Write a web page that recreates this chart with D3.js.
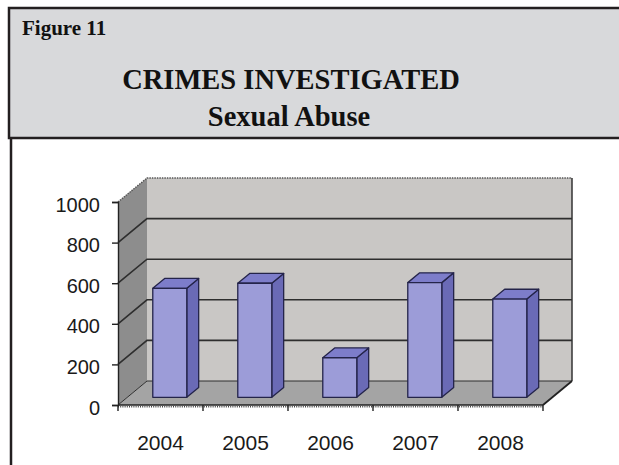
<!DOCTYPE html>
<html>
<head>
<meta charset="utf-8">
<script src="https://cdn.jsdelivr.net/npm/d3@7"></script>
<style>
  html, body { margin: 0; padding: 0; background: #ffffff; }
  svg { display: block; }
</style>
</head>
<body>
<svg id="chart" width="619" height="465"></svg>
<script>
// ---- data ----
const categories = ["2004", "2005", "2006", "2007", "2008"];
const values = [537, 562, 195, 565, 484];
const yTicks = [0, 200, 400, 600, 800, 1000];
const figureLabel = "Figure 11";
const titleLines = ["CRIMES INVESTIGATED", "Sexual Abuse"];

// ---- layout ----
const svg = d3.select("#chart");
const DX = 29, DY = 24;           // depth offset of the 3D box
const zf = 0.32, zb = 0.73;       // bar front/back depth
const x = d3.scaleBand().domain(categories).range([118, 543])
  .paddingInner(0.6).paddingOuter(0.3);
const y = d3.scaleLinear().domain([0, 1000]).range([405, 202]);
const proj = (px, v, z) => [px + z * DX, y(v) - z * DY];
const x0 = x.range()[0], x1 = x.range()[1];
const vMax = y.domain()[1];
const poly = pts => pts.map(p => p.join(",")).join(" ");

// ---- header box ----
svg.append("rect").attr("x", 9).attr("y", 8).attr("width", 640).attr("height", 130)
  .attr("fill", "#d8d9db").attr("stroke", "#231f20").attr("stroke-width", 2.5);
svg.append("line").attr("x1", 11).attr("x2", 11).attr("y1", 139).attr("y2", 470)
  .attr("stroke", "#231f20").attr("stroke-width", 2.5);

const serif = "'Liberation Serif', 'Times New Roman', serif";
svg.append("text").attr("x", 22).attr("y", 35).text(figureLabel)
  .attr("font-family", serif).attr("font-weight", "bold").attr("font-size", 21).attr("fill", "#111");
svg.append("text").attr("x", 291).attr("y", 89).text(titleLines[0])
  .attr("text-anchor", "middle")
  .attr("font-family", serif).attr("font-weight", "bold").attr("font-size", 28.5).attr("fill", "#111");
svg.append("text").attr("x", 289).attr("y", 126).text(titleLines[1])
  .attr("text-anchor", "middle")
  .attr("font-family", serif).attr("font-weight", "bold").attr("font-size", 28.5).attr("fill", "#111");

// ---- 3D walls ----
const g = svg.append("g");
g.append("polygon").attr("points", poly([proj(x0,0,1), proj(x1,0,1), proj(x1,vMax,1), proj(x0,vMax,1)]))
  .attr("fill", "#c9c7c5");
g.append("polygon").attr("points", poly([proj(x0,0,0), proj(x0,0,1), proj(x0,vMax,1), proj(x0,vMax,0)]))
  .attr("fill", "#8d8d8d");
g.append("polygon").attr("points", poly([proj(x0,0,0), proj(x1,0,0), proj(x1,0,1), proj(x0,0,1)]))
  .attr("fill", "#a4a4a4");

// gridlines on back wall and left wall
yTicks.filter(v => v < vMax).forEach(v => {
  const a = proj(x0, v, 0), b = proj(x0, v, 1), c = proj(x1, v, 1);
  g.append("polyline").attr("points", poly([a, b, c]))
    .attr("fill", "none").attr("stroke", "#2e2e2e").attr("stroke-width", v === 0 ? 1 : 1.6);
});
// top edge (dotted)
{
  const a = proj(x0, vMax, 0), b = proj(x0, vMax, 1), c = proj(x1, vMax, 1);
  g.append("polyline").attr("points", poly([a, b, c]))
    .attr("fill", "none").attr("stroke", "#555").attr("stroke-width", 1.4)
    .attr("stroke-dasharray", "1.5,1");
}
// right edge of back wall and floor
g.append("line").attr("x1", proj(x1,0,1)[0]).attr("y1", proj(x1,0,1)[1])
  .attr("x2", proj(x1,vMax,1)[0]).attr("y2", proj(x1,vMax,1)[1])
  .attr("stroke", "#333").attr("stroke-width", 1.5);
g.append("line").attr("x1", proj(x1,0,0)[0]).attr("y1", proj(x1,0,0)[1])
  .attr("x2", proj(x1,0,1)[0]).attr("y2", proj(x1,0,1)[1])
  .attr("stroke", "#222").attr("stroke-width", 1.8);

// ---- bars ----
categories.forEach((cat, i) => {
  const v = values[i];
  const l = x(cat), r = x(cat) + x.bandwidth();
  const bg = g.append("g").attr("stroke", "#24244a").attr("stroke-width", 1.3).attr("stroke-linejoin", "round");
  bg.append("polygon").attr("points", poly([proj(r,0,zf), proj(r,0,zb), proj(r,v,zb), proj(r,v,zf)]))
    .attr("fill", "#6a6ab6");
  bg.append("polygon").attr("points", poly([proj(l,v,zf), proj(r,v,zf), proj(r,v,zb), proj(l,v,zb)]))
    .attr("fill", "#7d7dca");
  bg.append("polygon").attr("points", poly([proj(l,0,zf), proj(r,0,zf), proj(r,v,zf), proj(l,v,zf)]))
    .attr("fill", "#9c9cd8");
});

// ---- axes ----
const sans = "'Liberation Sans', Arial, sans-serif";
// y axis
const yAxis = d3.axisLeft(y).tickValues(yTicks).tickSize(6).tickPadding(12).tickFormat(d3.format("d"));
const ya = svg.append("g").attr("transform", `translate(${x0},0)`).call(yAxis);
ya.select(".domain").attr("stroke", "#222").attr("stroke-width", 1.4);
ya.selectAll(".tick line").attr("stroke", "#222").attr("stroke-width", 1.4);
ya.selectAll(".tick text").attr("font-family", sans).attr("font-size", 20).attr("fill", "#1a1a1a")
  .attr("dy", "0.45em");

// x axis: line along floor front with ticks at category boundaries
const xa = svg.append("g").attr("transform", `translate(0,${y(0)})`);
xa.append("line").attr("x1", x0).attr("x2", x1).attr("y1", 0).attr("y2", 0)
  .attr("stroke", "#222").attr("stroke-width", 1.4);
xa.append("line").attr("x1", x0).attr("x2", x1).attr("y1", 1.8).attr("y2", 1.8)
  .attr("stroke", "#444").attr("stroke-width", 1.4).attr("stroke-dasharray", "1,1.2");
d3.range(categories.length + 1).forEach(i => {
  const px = x0 + i * x.step();
  xa.append("line").attr("x1", px).attr("x2", px).attr("y1", 0).attr("y2", 6)
    .attr("stroke", "#222").attr("stroke-width", 1.4);
});
xa.selectAll("text.xl").data(categories).enter().append("text").attr("class", "xl")
  .attr("x", d => x(d) + x.bandwidth() / 2).attr("y", 45)
  .attr("text-anchor", "middle").attr("font-family", sans).attr("font-size", 21)
  .attr("fill", "#1a1a1a").text(d => d);
</script>
</body>
</html>
